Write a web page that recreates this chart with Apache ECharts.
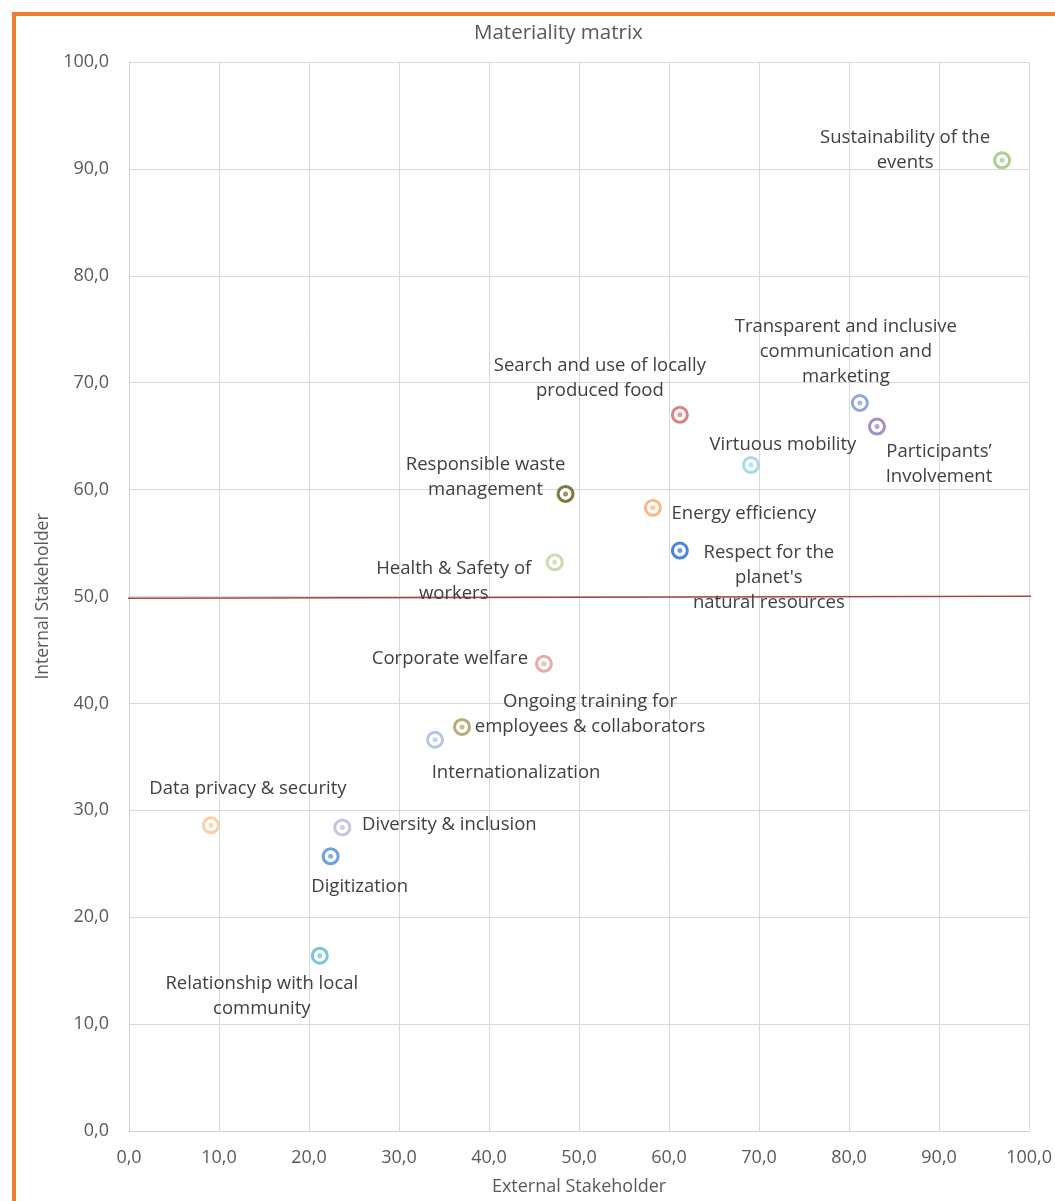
<!DOCTYPE html>
<html>
<head>
<meta charset="utf-8">
<script src="https://cdn.jsdelivr.net/npm/echarts@6/dist/echarts.min.js"></script>
<style>
html, body { margin: 0; padding: 0; background: #fff; }
#main { width: 1055px; height: 1201px; }
</style>
</head>
<body>
<div id="main"></div>
<script>
// topics of the matrix
var topics = [
	'Sustainability of the\nevents',
	'Transparent and inclusive\ncommunication and\nmarketing',
	'Participants\u2019\nInvolvement',
	'Search and use of locally\nproduced food',
	'Virtuous mobility',
	'Responsible waste\nmanagement',
	'Energy efficiency',
	'Respect for the\nplanet\'s\nnatural resources',
	'Health & Safety of\nworkers',
	'Corporate welfare',
	'Ongoing training for\nemployees & collaborators',
	'Internationalization',
	'Data privacy & security',
	'Diversity & inclusion',
	'Digitization',
	'Relationship with local\ncommunity'
];
// external stakeholder score (x)
var externalScore = [97.0, 81.2, 83.1, 61.2, 69.1, 48.5, 58.2, 61.2, 47.3, 46.1, 37.0, 34.0, 9.1, 23.7, 22.4, 21.2];
// internal stakeholder score (y)
var internalScore = [90.8, 68.1, 65.9, 67.0, 62.3, 59.6, 58.3, 54.3, 53.2, 43.7, 37.8, 36.6, 28.6, 28.4, 25.7, 16.4];
// red threshold line
var thresholdX = [-2.9, 100.9];
var thresholdY = [49.84, 50.03];

// styles
var colors = ['#A9D08E', '#8EA9DB', '#A58FC8', '#D98282', '#A8DAEA', '#7F7640', '#F9B986', '#4A84DA',
	'#C9DDB0', '#EBAAAA', '#BBAA78', '#B4C7E7', '#FBCDA8', '#CBC1E0', '#6E9FE0', '#7CC4D6'];
var labelOffset = [[-97, -10], [-14, -51], [62, 38], [-80, -37], [32, -20], [-80, -17], [91, 6], [89, 27],
	[-101, 19], [-94, -5], [128, -13], [81, 33], [37, -37], [107, -3], [29, 30], [-58, 41]];

var font = 'Open Sans';
var grey = '#595959';

var ringData = [];
var dotData = [];
for (var i = 0; i < topics.length; i++) {
	ringData.push({
		name: topics[i],
		value: [externalScore[i], internalScore[i]],
		itemStyle: { borderColor: colors[i] },
		label: { offset: labelOffset[i] }
	});
	dotData.push({
		name: topics[i],
		value: [externalScore[i], internalScore[i]],
		itemStyle: { color: colors[i] }
	});
}

function fmt(v) {
	return v.toFixed(1).replace('.', ',');
}

var myChart = echarts.init(document.getElementById('main'));
var option = {
	backgroundColor: '#fff',
	animation: false,
	textStyle: { fontFamily: font },
	title: {
		text: 'Materiality matrix',
		left: 469,
		top: 18,
		textStyle: { fontFamily: font, fontWeight: 'normal', fontSize: 20.5, color: grey }
	},
	graphic: [{
		type: 'rect',
		shape: { x: 14, y: 14, width: 1200, height: 1400 },
		style: { fill: 'none', stroke: '#ED7D31', lineWidth: 4 },
		z: 100
	}],
	grid: { left: 129, right: 23, top: 62, bottom: 61 },
	xAxis: {
		type: 'value', min: 0, max: 100, interval: 10,
		name: 'External Stakeholder', nameLocation: 'middle', nameGap: 47,
		nameTextStyle: { fontFamily: font, fontSize: 18, color: grey },
		axisLine: { show: true, lineStyle: { color: '#D0D0D0' } },
		axisTick: { show: false },
		axisLabel: { formatter: fmt, fontFamily: font, fontSize: 18, color: grey, margin: 18 },
		splitLine: { lineStyle: { color: '#D9D9D9' } }
	},
	yAxis: {
		type: 'value', min: 0, max: 100, interval: 10,
		name: 'Internal Stakeholder', nameLocation: 'middle', nameGap: 72,
		nameTextStyle: { fontFamily: font, fontSize: 17.5, color: grey },
		axisLine: { show: true, lineStyle: { color: '#D0D0D0' } },
		axisTick: { show: false },
		axisLabel: { formatter: fmt, fontFamily: font, fontSize: 18, color: grey, margin: 20 },
		splitLine: { lineStyle: { color: '#D9D9D9' } }
	},
	series: [
		{
			name: 'threshold',
			type: 'line',
			data: [[thresholdX[0], thresholdY[0]], [thresholdX[1], thresholdY[1]]],
			symbol: 'none',
			clip: false,
			silent: true,
			lineStyle: { color: '#A94442', width: 1.5 },
			z: 1
		},
		{
			name: 'rings',
			type: 'scatter',
			data: ringData,
			symbol: 'circle',
			symbolSize: 15,
			itemStyle: { color: '#fff', borderWidth: 3, opacity: 1 },
			label: {
				show: true,
				position: 'inside',
				formatter: '{b}',
				align: 'center',
				verticalAlign: 'middle',
				fontFamily: font,
				fontSize: 18.5,
				lineHeight: 25,
				color: '#404040'
			},
			z: 3
		},
		{
			name: 'dots',
			type: 'scatter',
			data: dotData,
			symbol: 'circle',
			symbolSize: 5,
			silent: true,
			z: 4
		}
	]
};
myChart.setOption(option);
</script>
</body>
</html>
